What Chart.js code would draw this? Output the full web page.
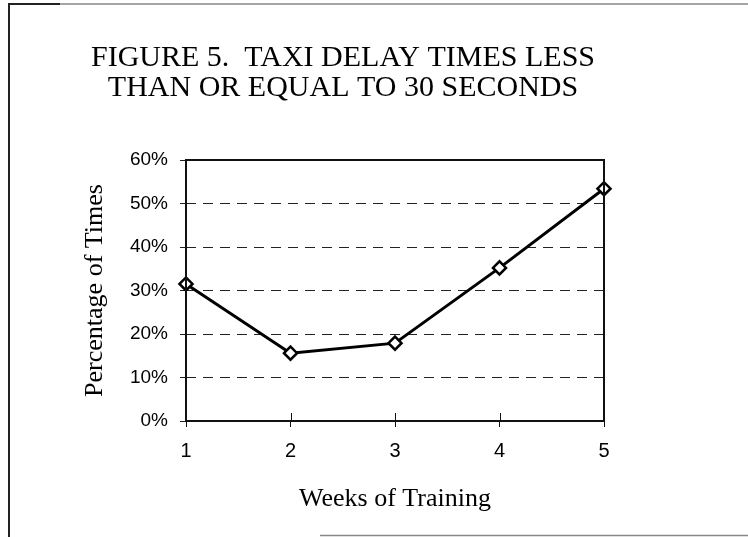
<!DOCTYPE html>
<html>
<head>
<meta charset="utf-8">
<script src="https://cdn.jsdelivr.net/npm/chart.js@4/dist/chart.umd.min.js"></script>
<style>
  html, body { margin: 0; padding: 0; background: #fff; }
  #wrap { position: relative; width: 748px; height: 537px; }
</style>
</head>
<body>
<div id="wrap"><canvas id="taxiChart"></canvas></div>
<script>
// data
const weeks = ["1", "2", "3", "4", "5"];
const pctUnder30s = [31.5, 15.6, 17.9, 35.2, 53.4];
const yTicksMax = 60;
const yStep = 10;
const titleLines = ["FIGURE 5.  TAXI DELAY TIMES LESS", "THAN OR EQUAL TO 30 SECONDS"];

// plot frame, inner x ticks and the page border
const framePlugin = {
    id: "frame",
    afterDraw(chart) {
        const ctx = chart.ctx;
        const a = chart.chartArea;
        ctx.save();
        ctx.strokeStyle = "#111";
        ctx.lineWidth = 2;
        ctx.strokeRect(a.left, a.top, a.right - a.left, a.bottom - a.top);

        // x ticks cross the axis
        const xs = chart.scales.x;
        ctx.lineWidth = 1;
        xs.ticks.forEach((t, i) => {
            const px = Math.round(xs.getPixelForTick(i)) + 0.5;
            ctx.beginPath();
            ctx.moveTo(px, a.bottom - 8);
            ctx.lineTo(px, a.bottom);
            ctx.stroke();
        });

        // outer border of the scanned page
        ctx.strokeStyle = "#222";
        ctx.lineWidth = 2;
        ctx.beginPath();
        ctx.moveTo(9, chart.height);
        ctx.lineTo(9, 4);
        ctx.lineTo(60, 4);
        ctx.stroke();
        ctx.strokeStyle = "#888";
        ctx.lineWidth = 1.5;
        ctx.beginPath();
        ctx.moveTo(60, 4);
        ctx.lineTo(chart.width, 4);
        ctx.moveTo(320, chart.height - 1.5);
        ctx.lineTo(chart.width, chart.height - 1.5);
        ctx.stroke();
        ctx.restore();
    }
};

const ctx = document.getElementById("taxiChart").getContext("2d");
new Chart(ctx, {
    type: "line",
    data: {
        labels: weeks,
        datasets: [{
            data: pctUnder30s,
            borderColor: "#000",
            borderWidth: 3,
            pointStyle: "rectRot",
            pointRadius: 6.5,
            pointBorderWidth: 2.5,
            pointBackgroundColor: "#fff",
            pointBorderColor: "#000",
            tension: 0,
            fill: false,
            yAxisID: "y"
        }]
    },
    options: {
        responsive: true,
        maintainAspectRatio: false,
        animation: false,
        layout: { padding: { left: 10, right: 72, top: 0, bottom: 16 } },
        plugins: {
            legend: { display: false },
            tooltip: { enabled: false },
            title: {
                display: true,
                text: titleLines,
                color: "#000",
                font: { family: "'Liberation Serif', 'Times New Roman', serif", size: 30, weight: "normal", lineHeight: 1.0 },
                padding: { top: 43, bottom: 57 }
            }
        },
        scales: {
            x: {
                offset: false,
                grid: { display: true, drawOnChartArea: false, drawTicks: true, tickLength: 6, color: "#111" },
                border: { display: false },
                ticks: {
                    color: "#000",
                    padding: 12,
                    font: { family: "'Liberation Sans', Arial, sans-serif", size: 20 }
                },
                title: {
                    display: true,
                    text: "Weeks of Training",
                    color: "#000",
                    font: { family: "'Liberation Serif', 'Times New Roman', serif", size: 26 },
                    padding: { top: 0, bottom: 6 }
                },
                afterFit(scale) { scale.height = 100; }
            },
            y: {
                min: 0,
                max: yTicksMax,
                position: "left",
                grid: {
                    color: "#222",
                    lineWidth: 1,
                    tickLength: 6,
                    drawTicks: true
                },
                border: { display: false, dash: [10, 7] },
                ticks: {
                    stepSize: yStep,
                    color: "#000",
                    padding: 12,
                    font: { family: "'Liberation Sans', Arial, sans-serif", size: 19 },
                    callback: v => v + "%"
                },
                title: {
                    display: true,
                    text: "Percentage of Times",
                    color: "#000",
                    font: { family: "'Liberation Serif', 'Times New Roman', serif", size: 26 },
                    padding: { top: 70, bottom: 0 }
                },
                afterFit(scale) { scale.width = 176; }
            },
            yPad: {
                position: "right",
                min: 0,
                max: yTicksMax,
                grid: { display: false },
                border: { display: false },
                ticks: { display: false },
                afterFit(scale) { scale.width = 72; }
            }
        }
    },
    plugins: [framePlugin]
});
</script>
</body>
</html>
